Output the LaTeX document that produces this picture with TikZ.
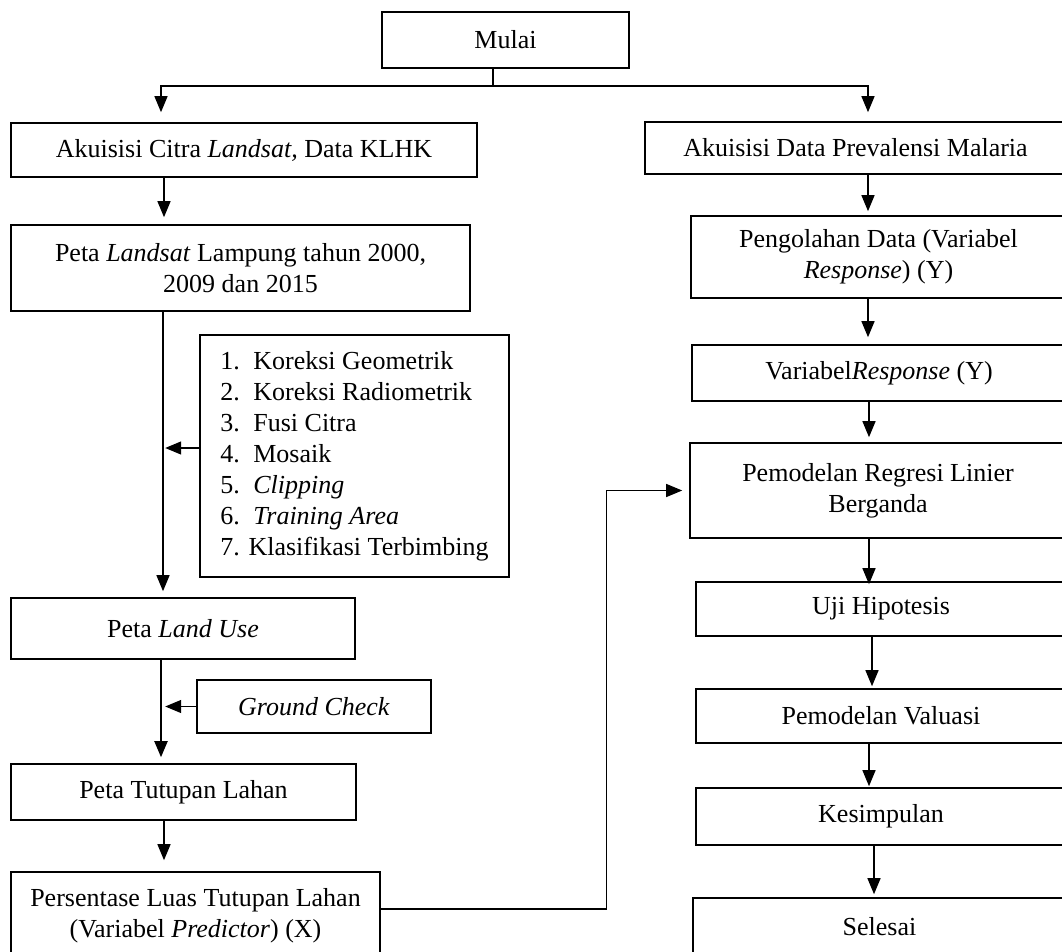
\documentclass[tikz,border=0pt]{standalone}
\usepackage{fontspec}
\setmainfont{Liberation Serif}
\usetikzlibrary{arrows.meta}

\tikzset{
  box/.style={draw, line width=1.6pt, align=center, inner sep=0pt},
  link/.style={line width=1.3pt},
  arr/.style={link, -{Triangle[length=16pt,width=13pt]}}
}

\begin{document}
\begin{tikzpicture}[x=1pt, y=-1pt, font=\fontsize{26}{31}\selectfont]
    % Frame of the picture
    \useasboundingbox (0,0) rectangle (1062,952);
    \clip (0,0) rectangle (1062,952);

    % Left column
    \node[box, minimum width=247pt, minimum height=56pt] (Mulai) at (505.5,40) {Mulai};
    \node[box, minimum width=466pt, minimum height=54pt] (Citra) at (244,150) {Akuisisi Citra \textit{Landsat,} Data KLHK};
    \node[box, minimum width=459pt, minimum height=86pt] (Landsat) at (240.5,268) {Peta \textit{Landsat} Lampung tahun 2000,\\2009 dan 2015};
    \node[box, minimum width=309pt, minimum height=242pt, align=left] (Koreksi) at (354.5,456) {%
        \makebox[33pt][l]{1.}Koreksi Geometrik\\
        \makebox[33pt][l]{2.}Koreksi Radiometrik\\
        \makebox[33pt][l]{3.}Fusi Citra\\
        \makebox[33pt][l]{4.}Mosaik\\
        \makebox[33pt][l]{5.}\textit{Clipping}\\
        \makebox[33pt][l]{6.}\textit{Training Area}\\
        7. Klasifikasi Terbimbing};
    \node[box, minimum width=344pt, minimum height=61pt] (LandUse) at (183,628.5) {Peta \textit{Land Use}};
    \node[box, minimum width=234pt, minimum height=53pt] (Ground) at (314,706.5) {\textit{Ground Check}};
    \node[box, minimum width=345pt, minimum height=56pt] (Tutupan) at (183.5,792) {Peta Tutupan Lahan};
    \node[box, minimum width=369pt, minimum height=88pt] (Persen) at (195.5,916) {Persentase Luas Tutupan Lahan\\(Variabel \textit{Predictor}) (X)};

    % Right column
    \node[box, minimum width=421pt, minimum height=52pt] (Prev) at (855.5,148) {Akuisisi Data Prevalensi Malaria};
    \node[box, minimum width=375pt, minimum height=82pt] (Olah) at (878.5,257) {Pengolahan Data (Variabel\\\textit{Response}) (Y)};
    \node[box, minimum width=374pt, minimum height=56pt] (Resp) at (879,373) {Variabel\textit{Response} (Y)};
    \node[box, minimum width=376pt, minimum height=95pt] (Regresi) at (878,490.5) {Pemodelan Regresi Linier\\Berganda};
    \node[box, minimum width=370pt, minimum height=54pt] (Uji) at (881,609) {Uji Hipotesis};
    \node[box, minimum width=370pt, minimum height=54pt] (Valuasi) at (881,716) {Pemodelan Valuasi};
    \node[box, minimum width=370pt, minimum height=57pt] (Simpul) at (881,816.5) {Kesimpulan};
    \node[box, minimum width=373pt, minimum height=58pt] (Selesai) at (879.5,927) {Selesai};

    % Split from the start
    \draw[link] (Mulai.south -| 493,0) -- (493,86) coordinate (Split);
    \draw[arr, shorten >=10pt] (Split) -| (Citra.north -| 161,0);
    \draw[arr, shorten >=9pt] (Split) -| (Prev.north -| 868,0);

    % Left flow
    \draw[arr, shorten >=7pt] (Citra.south -| 164,0) -- (Landsat.north -| 164,0);
    \draw[arr, shorten >=6pt] (Landsat.south -| 163,0) -- (LandUse.north -| 163,0);
    \draw[arr] ([yshift=8pt]Koreksi.west) -- ++(-34,0);
    \draw[arr, line width=2pt, shorten >=6pt] (LandUse.south -| 161,0) -- (Tutupan.north -| 161,0);
    \draw[arr] (Ground.west) -- ++(-31,0);
    \draw[arr, shorten >=11pt] (Tutupan.south -| 164,0) -- (Persen.north -| 164,0);
    \draw[arr, shorten >=7pt] ([yshift=7pt]Persen.east) -| ([xshift=-83pt]Regresi.west) -- (Regresi.west);

    % Right flow
    \draw[arr, shorten >=4pt] (Prev.south -| 868,0) -- (Olah.north -| 868,0);
    \draw[arr, shorten >=7pt] (Olah.south -| 868,0) -- (Resp.north -| 868,0);
    \draw[arr, shorten >=5pt] (Resp.south -| 869,0) -- (Regresi.north -| 869,0);
    \draw[arr, shorten >=-3pt] (Regresi.south -| 869,0) -- (Uji.north -| 869,0);
    \draw[arr, shorten >=2pt] (Uji.south -| 872,0) -- (Valuasi.north -| 872,0);
    \draw[arr, shorten >=1pt] (Valuasi.south -| 869,0) -- (Simpul.north -| 869,0);
    \draw[arr, shorten >=3pt] (Simpul.south -| 874,0) -- (Selesai.north -| 874,0);
\end{tikzpicture}
\end{document}
